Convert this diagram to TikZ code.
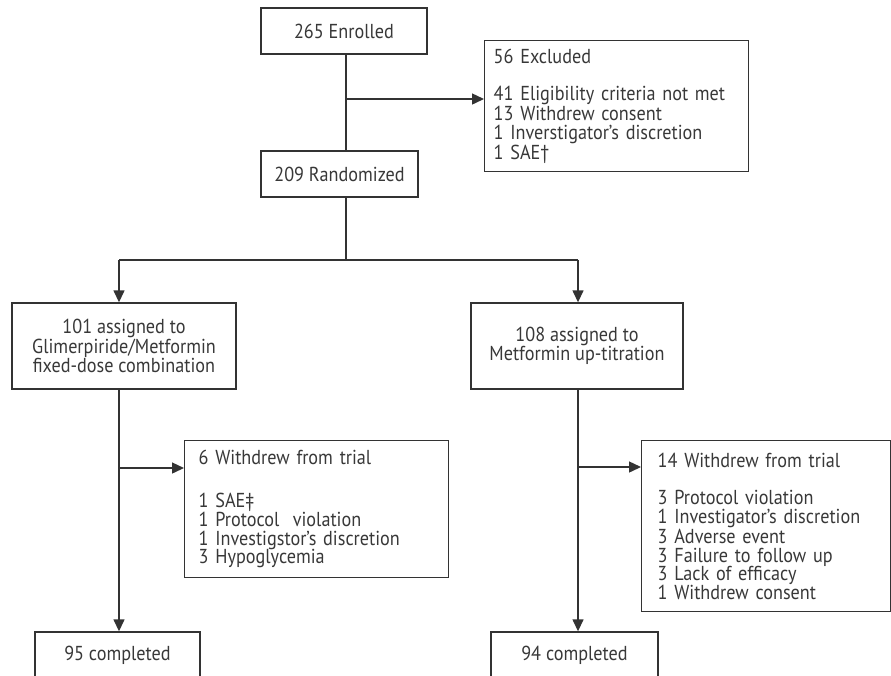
\documentclass[tikz,border=0pt]{standalone}
\usepackage{fontspec}
\setmainfont{PT Sans}[FakeStretch=0.9]
\usepackage{tikz}
\usetikzlibrary{arrows.meta}

\begin{document}
\begin{tikzpicture}
\tikzstyle{every node}+=[font=\fontsize{11.5}{10.6}\selectfont, text=black!78]
\tikzstyle{box}=[draw=black!80, line width=0.8pt, inner sep=0pt]
\tikzstyle{arr}=[draw=black!80, line width=0.8pt, -{Triangle[length=0.24cm, width=0.22cm]}]
\tikzstyle{ln}=[draw=black!80, line width=0.8pt]
\useasboundingbox (0,0) rectangle (17.82,-13.5);
\clip (0,0) rectangle (17.82,-13.5);
\node [box, minimum width=3.32cm, minimum height=0.92cm] (enrol) at (6.88,-0.62) {265 Enrolled};
\node [box, anchor=north west, minimum height=2.62cm, inner xsep=0.18cm, text width=4.92cm, align=left] (excl) at (9.68,-0.80)
  {56 Excluded\\[10.6pt]41 Eligibility criteria not met\\13 Withdrew consent\\1 Inverstigator's discretion\\1 SAE\textdagger};
\node [box, minimum width=3.14cm, minimum height=0.92cm] (rand) at (6.79,-3.48) {209 Randomized};
\node [box, minimum width=4.48cm, minimum height=1.72cm, align=center] (gfdc) at (2.48,-6.92)
  {101 assigned to\\Glimerpiride/Metformin\\fixed-dose combination};
\node [box, minimum width=4.24cm, minimum height=1.72cm, align=center] (metup) at (11.54,-6.92)
  {108 assigned to\\Metformin up-titration};
\node [box, anchor=north west, minimum height=2.74cm, inner xsep=0.28cm, text width=4.72cm, align=left] (wdl) at (3.68,-8.80)
  {6 Withdrew from trial\\[14pt]1 SAE\textdaggerdbl\\1 Protocol\ \ violation\\1 Investigstor's discretion\\3 Hypoglycemia};
\node [box, anchor=north west, minimum height=3.42cm, inner xsep=0.32cm, text width=4.34cm, align=left] (wdr) at (12.82,-8.80)
  {14 Withdrew from trial\\[10.6pt]3 Protocol violation\\1 Investigator's discretion\\3 Adverse event\\3 Failure to follow up\\3 Lack of efficacy\\1 Withdrew consent};
\node [box, minimum width=3.30cm, minimum height=0.92cm] (donel) at (2.35,-13.10) {95 completed};
\node [box, minimum width=3.34cm, minimum height=0.92cm] (doner) at (11.49,-13.10) {94 completed};
\coordinate (c0) at (6.92,-1.98);
\coordinate (split) at (6.92,-5.20);
\coordinate (cl) at (2.38,-5.20);
\coordinate (cr) at (11.56,-5.20);
\coordinate (bl) at (2.38,-9.36);
\coordinate (br) at (11.56,-9.34);
\draw [ln] (enrol.south -| c0) -- (rand.north -| c0);
\draw [arr] (c0) -- (c0 -| excl.west);
\draw [ln] (rand.south -| split) -- (split);
\draw [ln] (cl) -- (cr);
\draw [arr] (cl) -- (cl |- gfdc.north);
\draw [arr] (cr) -- (cr |- metup.north);
\draw [arr] (cl |- gfdc.south) -- (cl |- donel.north);
\draw [arr] (bl) -- (bl -| wdl.west);
\draw [arr] (cr |- metup.south) -- (cr |- doner.north);
\draw [arr] (br) -- (br -| wdr.west);
\end{tikzpicture}
\end{document}
